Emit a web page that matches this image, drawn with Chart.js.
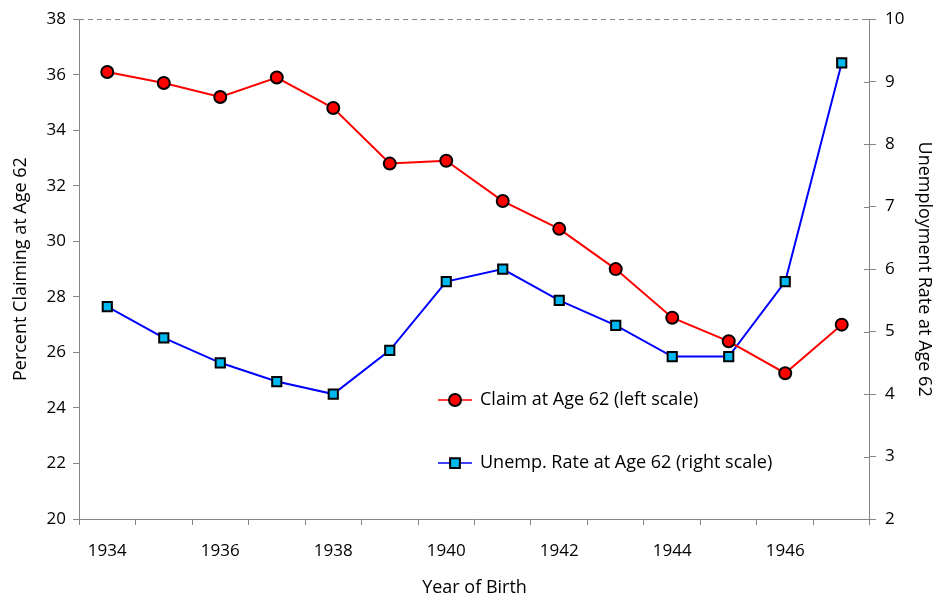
<!DOCTYPE html>
<html>
<head>
<meta charset="utf-8">
<script src="https://cdn.jsdelivr.net/npm/chart.js@4/dist/chart.umd.min.js"></script>
<style>
  html, body { margin: 0; padding: 0; background: #fff; }
  #wrap { width: 937px; height: 599px; }
</style>
</head>
<body>
<div id="wrap"><canvas id="chart" width="937" height="599"></canvas></div>
<script>
// data
var years = ['1934', '1935', '1936', '1937', '1938', '1939', '1940',
             '1941', '1942', '1943', '1944', '1945', '1946', '1947'];
var claimAt62 = [36.1, 35.7, 35.2, 35.9, 34.8, 32.8, 32.9,
                 31.45, 30.45, 29.0, 27.25, 26.4, 25.25, 27.0];
var unempAt62 = [5.4, 4.9, 4.5, 4.2, 4.0, 4.7, 5.8,
                 6.0, 5.5, 5.1, 4.6, 4.6, 5.8, 9.3];
var leftTicks = [20, 38, 2];   // min, max, step
var rightTicks = [2, 10, 1];

var FONT = '"Open Sans", sans-serif';
var axisGray = '#868686';

// legend drawn inside the plot area, like the original
var insideLegend = {
    id: 'insideLegend',
    afterDraw: function(chart) {
        var ctx = chart.ctx;
        var items = chart.data.datasets;
        var x0 = 438, y0 = 400, rowH = 63;
        ctx.save();
        ctx.font = '18px ' + FONT;
        ctx.textBaseline = 'middle';
        items.forEach(function(ds, i) {
            var y = y0 + i * rowH;
            ctx.strokeStyle = ds.borderColor;
            ctx.lineWidth = 1.5;
            ctx.beginPath();
            ctx.moveTo(x0, y);
            ctx.lineTo(x0 + 34, y);
            ctx.stroke();
            ctx.fillStyle = ds.pointBackgroundColor;
            ctx.strokeStyle = '#000';
            ctx.lineWidth = ds.pointBorderWidth;
            ctx.beginPath();
            if (ds.pointStyle === 'circle') {
                ctx.arc(x0 + 17, y, ds.pointRadius, 0, Math.PI * 2);
            } else {
                var s = ds.pointRadius * 0.75;
                ctx.rect(x0 + 17 - s, y - s, s * 2, s * 2);
            }
            ctx.fill();
            ctx.stroke();
            ctx.fillStyle = '#000';
            ctx.fillText(ds.label, x0 + 42, y);
        });
        ctx.restore();
    }
};

// right axis tick marks cross the axis line; top edge is dashed
var frameExtras = {
    id: 'frameExtras',
    afterDraw: function(chart) {
        var ctx = chart.ctx;
        var a = chart.chartArea;
        var yr = chart.scales.y1;
        ctx.save();
        ctx.strokeStyle = axisGray;
        ctx.lineWidth = 1;
        yr.ticks.forEach(function(t) {
            var y = Math.round(yr.getPixelForValue(t.value)) + 0.5;
            ctx.beginPath();
            ctx.moveTo(a.right - 6, y);
            ctx.lineTo(a.right, y);
            ctx.stroke();
        });
        ctx.setLineDash([5, 4]);
        ctx.beginPath();
        ctx.moveTo(a.left, Math.round(a.top) + 0.5);
        ctx.lineTo(a.right, Math.round(a.top) + 0.5);
        ctx.stroke();
        ctx.restore();
    }
};

var ctx = document.getElementById('chart').getContext('2d');
new Chart(ctx, {
    type: 'line',
    data: {
        labels: years,
        datasets: [{
            label: 'Claim at Age 62 (left scale)',
            data: claimAt62,
            yAxisID: 'y',
            borderColor: '#ff0000',
            borderWidth: 2,
            pointStyle: 'circle',
            pointRadius: 6,
            pointBackgroundColor: '#ff0000',
            pointBorderColor: '#000',
            pointBorderWidth: 2,
            tension: 0
        }, {
            label: 'Unemp. Rate at Age 62 (right scale)',
            data: unempAt62,
            yAxisID: 'y1',
            borderColor: '#0000ff',
            borderWidth: 2,
            pointStyle: 'rect',
            pointRadius: 6.5,
            pointBackgroundColor: '#00b8f0',
            pointBorderColor: '#000',
            pointBorderWidth: 2,
            tension: 0
        }]
    },
    options: {
        responsive: false,
        animation: false,
        layout: { padding: { left: 10, right: 0, top: 12, bottom: 0 } },
        plugins: {
            legend: { display: false },
            tooltip: { enabled: false }
        },
        scales: {
            x: {
                offset: true,
                grid: {
                    offset: true,
                    drawOnChartArea: false,
                    drawTicks: true,
                    tickLength: 6,
                    tickColor: axisGray
                },
                border: { color: axisGray },
                ticks: {
                    autoSkip: false,
                    maxRotation: 0,
                    color: '#000',
                    font: { family: FONT, size: 17 },
                    padding: 16,
                    callback: function(v, i) { return i % 2 === 0 ? this.getLabelForValue(v) : ''; }
                },
                title: {
                    display: true,
                    text: 'Year of Birth',
                    color: '#000',
                    font: { family: FONT, size: 18 },
                    padding: { top: 0, bottom: 0 }
                }
            },
            y: {
                position: 'left',
                min: leftTicks[0],
                max: leftTicks[1],
                grid: {
                    drawOnChartArea: false,
                    tickLength: 6,
                    tickColor: axisGray
                },
                border: { color: axisGray },
                ticks: {
                    stepSize: leftTicks[2],
                    color: '#000',
                    font: { family: FONT, size: 17 },
                    padding: 7
                },
                title: {
                    display: true,
                    text: 'Percent Claiming at Age 62',
                    color: '#000',
                    font: { family: FONT, size: 18 },
                    padding: { top: 0, bottom: 8 }
                }
            },
            y1: {
                position: 'right',
                min: rightTicks[0],
                max: rightTicks[1],
                grid: {
                    drawOnChartArea: false,
                    tickLength: 6,
                    tickColor: axisGray
                },
                border: { color: axisGray },
                ticks: {
                    stepSize: rightTicks[2],
                    color: '#000',
                    font: { family: FONT, size: 17 },
                    padding: 9
                },
                title: {
                    display: true,
                    text: 'Unemployment Rate at Age 62',
                    color: '#000',
                    font: { family: FONT, size: 18 },
                    padding: { top: 2, bottom: 0 }
                }
            }
        }
    },
    plugins: [insideLegend, frameExtras]
});
</script>
</body>
</html>
